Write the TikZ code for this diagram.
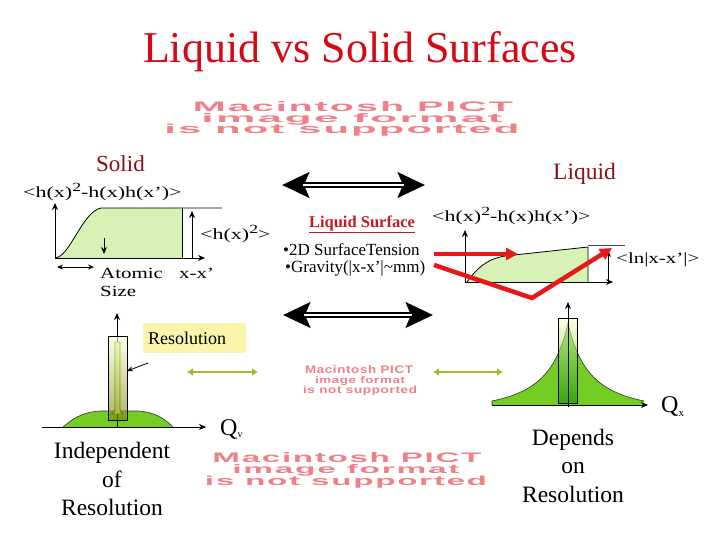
\documentclass[tikz,border=0pt]{standalone}
\usepackage{fontspec}
\setmainfont{Liberation Serif}
\newfontfamily\pictfont[LetterSpace=5]{Liberation Sans}
\usepackage{graphicx}
\usetikzlibrary{arrows.meta}
\definecolor{titlered}{RGB}{214,8,18}
\definecolor{darkred}{RGB}{135,18,22}
\definecolor{surfred}{RGB}{195,28,28}
\definecolor{pictpink}{RGB}{240,128,135}
\definecolor{palegreen}{RGB}{214,242,180}
\definecolor{brightgreen}{RGB}{115,205,35}
\definecolor{olivearrow}{RGB}{155,190,45}
\definecolor{resyellow}{RGB}{250,245,170}
\definecolor{redline}{RGB}{230,25,25}
\newcommand\fs[1]{\fontsize{#1}{#1}\selectfont}
\newcommand\hstretch[2]{\scalebox{#1}[1]{#2}}
\newcommand\sqtwo{\raisebox{0.45em}{\fs{12.5}2}}
\newcommand\pictline[3]{\resizebox{#1pt}{#2pt}{\pictfont\bfseries #3}}
\begin{document}
\begin{tikzpicture}[x=1pt,y=-1pt,
  lbl/.style={inner sep=0pt, anchor=base west},
  cl/.style={inner sep=0pt, anchor=base},
  axis/.style={line width=0.8pt, -{Stealth[length=7pt,width=6pt]}},
  bigarrow/.style={line width=6pt, {Stealth[length=27pt,width=25pt,inset=5pt]}-{Stealth[length=27pt,width=25pt,inset=5pt]}},
  bigarrowgap/.style={white, line width=2pt, shorten <=21pt, shorten >=21pt},
  greenarrow/.style={olivearrow, line width=2.5pt, {Latex[length=6pt,width=8pt]}-{Latex[length=6pt,width=8pt]}},
  redarrow/.style={redline, line width=4.5pt, -{Triangle[length=12pt,width=12pt]}},
  pict/.style={inner sep=0pt, anchor=base, text=pictpink},
  ]
\useasboundingbox (0,0) rectangle (720,540);

% title
\node[cl, text=titlered] (title) at (360,63) {\fs{44}Liquid vs Solid Surfaces};

% placeholder top
\node[pict] (pa1) at (353,112) {\pictline{320}{10}{Macintosh PICT}};
\node[pict] (pa2) at (352,123) {\pictline{301}{9}{image format}};
\node[pict] (pa3) at (342,134) {\pictline{355}{9.5}{is not supported}};
% placeholder middle
\node[pict] (pb1) at (359,373) {\pictline{108}{8}{Macintosh PICT}};
\node[pict] (pb2) at (360,383) {\pictline{90}{7}{image format}};
\node[pict] (pb3) at (360,393) {\pictline{114}{7.5}{is not supported}};
% placeholder bottom
\node[pict] (pc1) at (347,462) {\pictline{269}{10}{Macintosh PICT}};
\node[pict] (pc2) at (346,473) {\pictline{227}{9}{image format}};
\node[pict] (pc3) at (346,485) {\pictline{282}{9.5}{is not supported}};

% labels
\node[lbl, text=darkred] (solid) at (96,172) {\fs{23}Solid};
\node[lbl, text=darkred] (liquid) at (553,180) {\fs{23.5}Liquid};

% ---------- Solid graph ----------
\coordinate (sO) at (55,258);
\fill[palegreen] (sO) .. controls (70,257) and (82,212) .. (101,208) -- (182,208) -- (182,258) -- cycle;
\draw[line width=0.8pt] (sO) .. controls (70,257) and (82,212) .. (101,208) -- (222,208);
\draw[line width=0.8pt] (182,208) -- (182,258);
\draw[axis] (sO) -- (55,203);
\draw[axis] (sO) -- (205,258);
\draw[axis] (192,258) -- (192,211);
\draw[axis] (104,238) -- (104,254);
\draw[line width=0.8pt, {Stealth[length=6pt,width=5pt]}-{Stealth[length=6pt,width=5pt]}] (57,267) -- (94,267);
\node[lbl] (slab) at (23,198) {\hstretch{1.42}{\fs{15.5}<h(x)\sqtwo-h(x)h(x’)>}};
\node[lbl] (shx) at (200,240) {\hstretch{1.42}{\fs{15.5}<h(x)\sqtwo>}};
\node[lbl] (atomic) at (100,278) {\hstretch{1.35}{\fs{15.5}Atomic}};
\node[lbl] (size) at (100,296) {\hstretch{1.35}{\fs{15.5}Size}};
\node[lbl] (sxx) at (179,278) {\hstretch{1.35}{\fs{15.5}x-x’}};

% ---------- Liquid graph ----------
\coordinate (lO) at (465,282);
\fill[palegreen] (467,282) .. controls (477,268) and (487,259) .. (505,256) -- (588,247) -- (588,282) -- cycle;
\draw[line width=0.8pt] (467,282) .. controls (477,268) and (487,259) .. (505,256) -- (588,247) -- (588,282);
\draw[line width=0.6pt, black!70] (588,245) -- (625,245);
\draw[axis] (lO) -- (465,230);
\draw[axis] (lO) -- (613,282);
\draw[axis] (608,282) -- (608,250);
\node[lbl] (llab) at (432,222) {\hstretch{1.42}{\fs{15.5}<h(x)\sqtwo-h(x)h(x’)>}};
\node[lbl] (lln) at (616,263) {\hstretch{1.35}{\fs{15.5}<ln|x-x’|>}};

% middle text
\node[cl, text=surfred] (lsurf) at (362,227) {\fs{16.5}\bfseries\underline{Liquid Surface}};
\node[lbl] (b1) at (283,255) {\fs{17}•2D SurfaceTension};
\node[lbl] (b2) at (285,272) {\fs{17}•Gravity(|x-x’|\textasciitilde mm)};

% red arrows
\coordinate (r1s) at (434,254);
\coordinate (r1e) at (518,254);
\draw[redarrow] (r1s) -- (r1e);
\coordinate (r2s) at (434,265);
\coordinate (r2m) at (532,298);
\coordinate (r2e) at (612,248);
\draw[redarrow] (r2s) -- (r2m) -- (r2e);

% big black double arrows
\coordinate (ta1) at (282,185);
\coordinate (ta2) at (425,185);
\draw[bigarrow] (ta1) -- (ta2);
\draw[bigarrowgap] (ta1) -- (ta2);
\coordinate (tb1) at (283,315);
\coordinate (tb2) at (433,315);
\draw[bigarrow] (tb1) -- (tb2);
\draw[bigarrowgap] (tb1) -- (tb2);

% green arrows
\coordinate (g1a) at (187,372);
\coordinate (g1b) at (258,372);
\draw[greenarrow] (g1a) -- (g1b);
\coordinate (g2a) at (433,372);
\coordinate (g2b) at (503,372);
\draw[greenarrow] (g2a) -- (g2b);

% ---------- bottom-left peak ----------
\fill[brightgreen] (63,427) .. controls (78,414) and (88,412) .. (100,411) -- (138,411) .. controls (152,412) and (162,416) .. (173,427) -- cycle;
\draw[line width=0.6pt, black!80] (63,427) .. controls (78,414) and (88,412) .. (100,411) -- (138,411) .. controls (152,412) and (162,416) .. (173,427);
\draw[axis] (42,427) -- (206,427);
\draw[axis] (117,427) -- (117,313);
\filldraw[fill=green!35!yellow!40, draw=green!45!black, line width=0.8pt] (112,414) .. controls (115,412) .. (115,404) -- (115,342) -- (120,342) -- (120,404) .. controls (120,412) .. (123,414) -- cycle;
\draw[line width=0.7pt, top color=yellow!15, bottom color=olive!55!gray, fill opacity=0.6] (108,336) rectangle (127,420);
\draw[line width=0.8pt, -{Stealth[length=6pt,width=5pt]}] (148,363) -- (127,371);
\node[lbl] (qv) at (220,435) {\fs{24}Q\raisebox{-0.12em}{\fs{10}v}};

% resolution box
\node[fill=resyellow, anchor=north west, minimum width=103pt, minimum height=30pt, text width=93pt, inner xsep=5pt, align=left] (resbox) at (143,323) {\fs{18}Resolution};

% ---------- bottom-right peak ----------
\fill[brightgreen] (492,405) -- (492,401) .. controls (530,393) and (556,378) .. (568,323) .. controls (580,378) and (606,393) .. (644,401) -- (644,405) -- cycle;
\draw[line width=0.6pt, black!80] (492,405) -- (492,401) .. controls (530,393) and (556,378) .. (568,323) .. controls (580,378) and (606,393) .. (644,401);
\draw[axis] (492,405) -- (648,405);
\draw[line width=0.7pt, top color=yellow!22, bottom color=green!55!black, fill opacity=0.55] (558,318) rectangle (577,403);
\draw[axis] (568,407) -- (568,302);
\node[lbl] (qx) at (661,412) {\fs{24}Q\raisebox{-0.2em}{\fs{11}x}};

% bottom texts
\node[cl] (ind1) at (112,458) {\fs{23.5}Independent};
\node[cl] (ind2) at (112,487) {\fs{23.5}of};
\node[cl] (ind3) at (112,515) {\fs{23.5}Resolution};
\node[cl] (dep1) at (573,445) {\fs{23.5}Depends};
\node[cl] (dep2) at (573,473) {\fs{23.5}on};
\node[cl] (dep3) at (573,502) {\fs{23.5}Resolution};
\end{tikzpicture}
\end{document}
